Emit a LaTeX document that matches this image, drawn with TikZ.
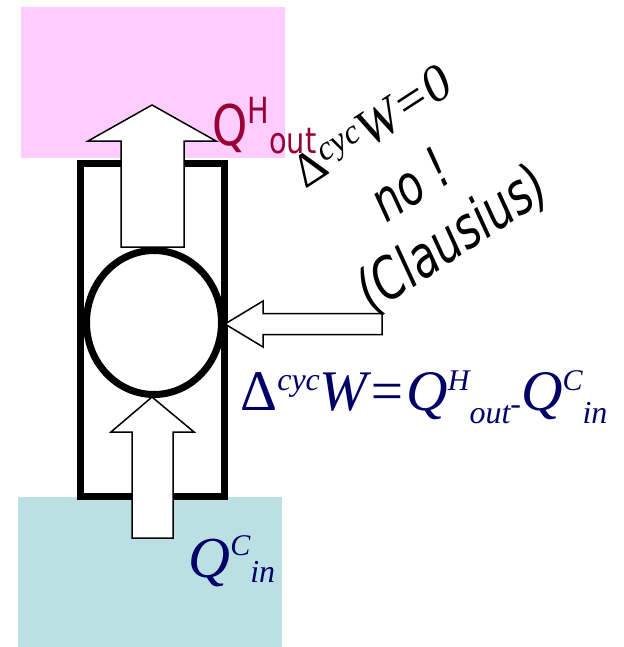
\documentclass[tikz,border=0pt]{standalone}
\usepackage{fontspec}
\setmainfont{Liberation Serif}
\newfontfamily\labelfont[FakeStretch=0.8]{DejaVu Sans}
\newfontfamily\notefont[FakeStretch=0.75]{DejaVu Sans}
\usepackage{xcolor}
\definecolor{hotpink}{RGB}{255,204,255}
\definecolor{coldcyan}{RGB}{187,224,227}
\definecolor{hotred}{RGB}{153,0,51}
\definecolor{navy}{RGB}{0,0,102}
\usepackage{tikz}
\usetikzlibrary{shapes.geometric, positioning}

\begin{document}
\begin{tikzpicture}[
    x=0.5pt, y=-0.5pt,
    reservoir/.style={rectangle, draw=none, inner sep=0, minimum width=132pt},
    engine/.style={rectangle, draw=black, line width=3.5pt, minimum width=72pt, minimum height=166.5pt, inner sep=0},
    cycle/.style={ellipse, draw=black, fill=white, line width=3.5pt, minimum width=67.5pt, minimum height=72pt, inner sep=0},
    blockarrow/.style={draw=black, fill=white, line width=0.75pt, line join=miter},
    rottext/.style={rotate=33, anchor=base west, inner sep=0}
]
\useasboundingbox (0,0) rectangle (623,647);
% reservoirs
\node (hot) [reservoir, fill=hotpink, minimum height=75.5pt] at (153,82.5) {};
\node (cold) [reservoir, fill=coldcyan, minimum height=75pt] at (150,572) {};
% engine and cycle
\node (box) [engine] at (152.5,330) {};
\node (cyc) [cycle] at (154,322.5) {};
% heat and work arrows
\draw [blockarrow] (121,247) -- (121,141) -- (88,141) -- (152,105) -- (216,141) -- (184,141) -- (184,247) -- cycle;
\draw [blockarrow] (132,538) -- (132,432) -- (111,432) -- (152,397) -- (194,432) -- (173,432) -- (173,538) -- cycle;
\draw [blockarrow] (382,313.5) -- (263,313.5) -- (263,301) -- (225,324) -- (263,347) -- (263,334.5) -- (382,334.5) -- cycle;
% labels
\node (qhot) [anchor=base west, inner sep=0, text=hotred] at (212,145)
    {\labelfont\fontsize{28pt}{28pt}\selectfont Q\raisebox{11pt}{\fontsize{18pt}{18pt}\selectfont H}\raisebox{-4pt}{\fontsize{18pt}{18pt}\selectfont out}};
\node (qcold) [anchor=base west, inner sep=0, text=navy] at (188,577)
    {\fontsize{29pt}{29pt}\selectfont\itshape Q\raisebox{11pt}{\fontsize{15pt}{15pt}\selectfont C}\raisebox{-2.5pt}{\fontsize{16pt}{16pt}\selectfont in}};
\node (balance) [anchor=base west, inner sep=0, text=navy] at (240,410)
    {\fontsize{28.7pt}{29pt}\selectfont Δ\raisebox{10pt}{\fontsize{16pt}{16pt}\selectfont\itshape cyc}\itshape W=Q\raisebox{10pt}{\fontsize{15pt}{15pt}\selectfont H}\raisebox{-6.5pt}{\fontsize{16pt}{16pt}\selectfont out}\raisebox{-2pt}{\fontsize{16pt}{16pt}\selectfont -}Q\raisebox{10pt}{\fontsize{15pt}{15pt}\selectfont C}\raisebox{-6.5pt}{\fontsize{16pt}{16pt}\selectfont in}};
\node (zerowork) [rottext] at (305,190)
    {\fontsize{24pt}{24pt}\selectfont Δ\raisebox{6pt}{\fontsize{17pt}{17pt}\selectfont\itshape cyc}\itshape\fontsize{26pt}{26pt}\selectfont W=0};
\node (no) [rottext] at (386,224) {\notefont\itshape\fontsize{28pt}{28pt}\selectfont no !};
\node (clausius) [rottext] at (372,314) {\notefont\itshape\fontsize{29pt}{29pt}\selectfont (Clausius)};
\end{tikzpicture}
\end{document}
